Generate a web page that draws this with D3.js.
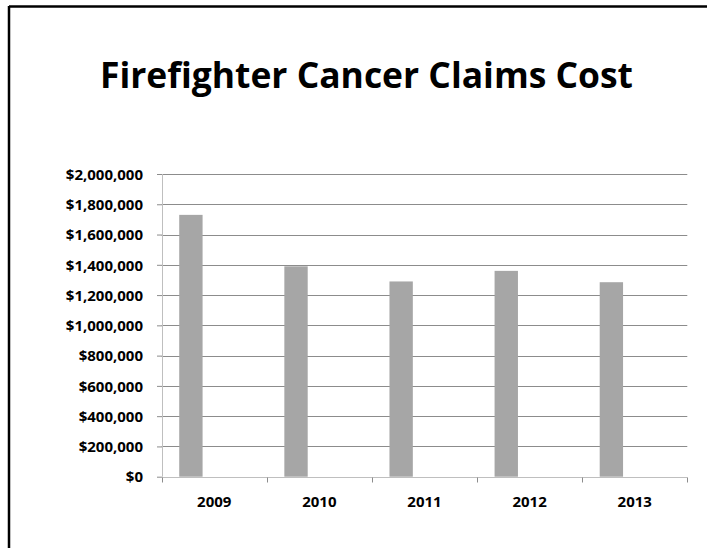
<!DOCTYPE html>
<html>
<head>
<meta charset="utf-8">
<script src="https://cdn.jsdelivr.net/npm/d3@7"></script>
<style>
  body { margin: 0; background: #fff; }
  svg { display: block; font-family: 'Open Sans', 'Liberation Sans', sans-serif; }
  .title { font-size: 36px; font-weight: bold; fill: #000; }
  .ylab, .xlab { font-size: 15px; font-weight: bold; fill: #000; }
</style>
</head>
<body>
<svg class="chart" width="712" height="548"></svg>
<script>
const years = ['2009', '2010', '2011', '2012', '2013']
const cost = [1730000, 1390000, 1290000, 1360000, 1285000]
const yTicks = [0, 200000, 400000, 600000, 800000, 1000000, 1200000, 1400000, 1600000, 1800000, 2000000]
// the original chart reserves room for three series per year, only the first is filled
const seriesSlots = ['cost', 's2', 's3']

const svg = d3.select('svg.chart')

// frame (left and top edges visible)
svg.append('line').attr('x1', 9).attr('y1', 6.5).attr('x2', 707).attr('y2', 6.5)
  .attr('stroke', '#000').attr('stroke-width', 2.5)
svg.append('line').attr('x1', 9).attr('y1', 6).attr('x2', 9).attr('y2', 548)
  .attr('stroke', '#000').attr('stroke-width', 2.5)

svg.append('text')
  .attr('class', 'title')
  .attr('x', 100)
  .attr('y', 88)
  .attr('textLength', 533)
  .attr('lengthAdjust', 'spacingAndGlyphs')
  .text('Firefighter Cancer Claims Cost')

const x0 = d3.scaleBand().domain(years).range([161.7, 687.3]).padding(0)
const x1 = d3.scaleBand().domain(seriesSlots).range([0, x0.bandwidth()])
  .paddingInner(0).paddingOuter(0.75)
const y = d3.scaleLinear().domain([0, 2000000]).range([476.7, 174])

const fmt = d => '$' + d3.format(',')(d)

// gridlines
svg.append('g')
  .selectAll('line')
  .data(yTicks.filter(d => d > 0))
  .enter()
  .append('line')
  .attr('x1', 161.7)
  .attr('x2', 687.3)
  .attr('y1', d => Math.round(y(d)) + 0.5)
  .attr('y2', d => Math.round(y(d)) + 0.5)
  .attr('stroke', '#8c8c8c')

// y axis
const yAxis = svg.append('g')
  .attr('transform', 'translate(162,0)')
  .call(d3.axisLeft(y).tickValues(yTicks).tickFormat(fmt).tickSize(5).tickPadding(14))
yAxis.select('.domain').attr('stroke', '#bfbfbf').attr('d', `M0.5,${y(2000000)}V${y(0)}`)
yAxis.selectAll('.tick line').attr('stroke', '#8c8c8c')
yAxis.selectAll('.tick text').attr('class', 'ylab').attr('dy', '0.35em')
yAxis.attr('font-family', null).attr('font-size', null)

// bars
svg.append('g')
  .selectAll('rect')
  .data(cost)
  .enter()
  .append('rect')
  .attr('x', (d, i) => x0(years[i]) + x1('cost'))
  .attr('y', d => y(d))
  .attr('width', x1.bandwidth())
  .attr('height', d => y(0) - y(d))
  .attr('fill', '#a6a6a6')

// x axis
const xAxis = svg.append('g')
  .attr('transform', `translate(0,${Math.round(y(0)) + 0.5})`)
xAxis.append('line')
  .attr('x1', 161.7).attr('x2', 687.3)
  .attr('stroke', '#bfbfbf')
xAxis.selectAll('line.tk')
  .data(years.concat(['end']))
  .enter()
  .append('line')
  .attr('class', 'tk')
  .attr('x1', (d, i) => Math.round(i < years.length ? x0(d) : x0.range()[1]) + 0.5)
  .attr('x2', (d, i) => Math.round(i < years.length ? x0(d) : x0.range()[1]) + 0.5)
  .attr('y1', 0).attr('y2', 5)
  .attr('stroke', '#8c8c8c')
xAxis.selectAll('text')
  .data(years)
  .enter()
  .append('text')
  .attr('class', 'xlab')
  .attr('x', d => x0(d) + x0.bandwidth() / 2)
  .attr('y', 29)
  .attr('text-anchor', 'middle')
  .text(d => d)
</script>
</body>
</html>
